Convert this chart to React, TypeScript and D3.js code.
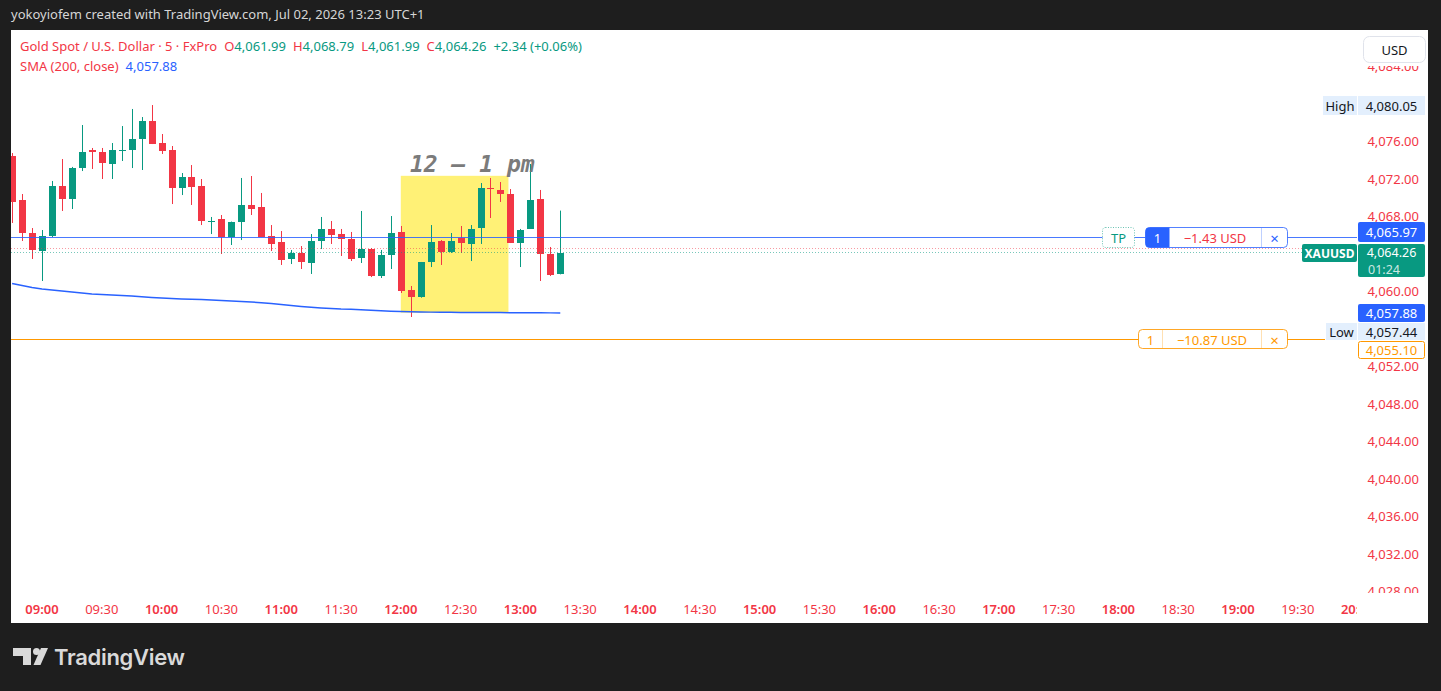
import * as d3 from "d3"

// 5-minute candles, Gold Spot / U.S. Dollar (FxPro)
const times = [
  "08:45", "08:50", "08:55", "09:00", "09:05", "09:10", "09:15", "09:20", "09:25", "09:30",
  "09:35", "09:40", "09:45", "09:50", "09:55", "10:00", "10:05", "10:10", "10:15", "10:20",
  "10:25", "10:30", "10:35", "10:40", "10:45", "10:50", "10:55", "11:00", "11:05", "11:10",
  "11:15", "11:20", "11:25", "11:30", "11:35", "11:40", "11:45", "11:50", "11:55", "12:00",
  "12:05", "12:10", "12:15", "12:20", "12:25", "12:30", "12:35", "12:40", "12:45", "12:50",
  "12:55", "13:00", "13:05", "13:10", "13:15", "13:20",
]

const opens = [
  4074.61, 4069.92, 4066.40, 4064.48, 4066.08, 4071.41, 4070.03, 4073.33, 4075.25, 4075.04,
  4073.76, 4075.15, 4075.25, 4076.43, 4078.35, 4076.00, 4075.25, 4071.20, 4072.37, 4071.41,
  4067.57, 4067.89, 4065.97, 4067.57, 4069.39, 4069.17, 4066.08, 4065.44, 4063.63, 4064.27,
  4063.20, 4065.55, 4066.83, 4066.29, 4065.76, 4063.73, 4064.69, 4061.81, 4064.05, 4066.51,
  4060.32, 4059.57, 4063.31, 4065.55, 4064.37, 4065.87, 4065.23, 4066.93, 4071.20, 4070.99,
  4070.56, 4065.33, 4066.83, 4070.03, 4064.16, 4061.99,
]
const highs = [
  4074.93, 4070.56, 4066.93, 4066.72, 4071.95, 4074.29, 4073.45, 4077.92, 4075.47, 4075.47,
  4076.00, 4077.81, 4079.63, 4078.77, 4080.05, 4076.96, 4075.68, 4072.80, 4073.65, 4072.16,
  4068.11, 4068.32, 4067.62, 4072.27, 4072.48, 4070.67, 4067.25, 4066.61, 4064.59, 4065.01,
  4066.29, 4068.11, 4067.68, 4066.83, 4066.51, 4068.75, 4064.80, 4064.59, 4068.21, 4067.15,
  4060.75, 4063.31, 4067.25, 4065.65, 4066.40, 4067.15, 4067.25, 4071.73, 4072.27, 4071.84,
  4071.09, 4066.83, 4073.76, 4070.99, 4064.91, 4068.79,
]
const lows = [
  4067.47, 4065.55, 4063.63, 4061.28, 4065.97, 4068.75, 4068.96, 4073.01, 4073.23, 4072.16,
  4072.16, 4074.08, 4073.33, 4073.12, 4075.89, 4074.83, 4069.49, 4070.45, 4069.39, 4067.25,
  4066.29, 4064.16, 4065.12, 4065.65, 4068.32, 4065.97, 4064.48, 4062.99, 4063.09, 4062.56,
  4062.03, 4064.69, 4065.23, 4063.95, 4063.41, 4063.20, 4061.70, 4061.60, 4062.56, 4060.00,
  4057.44, 4059.50, 4062.77, 4062.99, 4064.27, 4064.27, 4063.41, 4065.23, 4068.00, 4069.71,
  4065.33, 4062.77, 4066.83, 4061.28, 4061.81, 4061.99,
]
const closes = [
  4069.71, 4066.40, 4064.59, 4066.08, 4071.41, 4070.03, 4073.33, 4075.04, 4075.04, 4073.87,
  4075.25, 4075.25, 4076.43, 4078.35, 4075.89, 4075.15, 4071.20, 4072.37, 4071.31, 4067.68,
  4067.68, 4065.97, 4067.57, 4069.39, 4068.96, 4065.97, 4065.23, 4063.52, 4064.27, 4063.31,
  4065.55, 4066.83, 4066.19, 4065.76, 4063.63, 4064.69, 4061.81, 4064.05, 4066.40, 4060.21,
  4059.57, 4063.31, 4065.44, 4064.37, 4065.55, 4065.33, 4066.83, 4071.20, 4071.09, 4070.56,
  4065.33, 4066.72, 4069.92, 4064.16, 4061.92, 4064.26,
]
const sma200 = [
  4061.01, 4060.80, 4060.59, 4060.43, 4060.32, 4060.21, 4060.11, 4060.00, 4059.89, 4059.84,
  4059.79, 4059.73, 4059.68, 4059.59, 4059.52, 4059.47, 4059.41, 4059.36, 4059.33, 4059.30,
  4059.25, 4059.20, 4059.15, 4059.09, 4059.04, 4058.97, 4058.88, 4058.77, 4058.67, 4058.56,
  4058.47, 4058.40, 4058.35, 4058.29, 4058.26, 4058.21, 4058.15, 4058.10, 4058.06, 4058.03,
  4058.00, 4057.97, 4057.96, 4057.95, 4057.94, 4057.93, 4057.92, 4057.92, 4057.91, 4057.91,
  4057.90, 4057.90, 4057.89, 4057.89, 4057.88, 4057.88,
]

const priceTicks = [4084, 4080, 4076, 4072, 4068, 4064, 4060, 4056, 4052, 4048, 4044, 4040, 4036, 4032, 4028]
const timeTicks = [
  "09:00", "09:30", "10:00", "10:30", "11:00", "11:30", "12:00", "12:30", "13:00", "13:30", "14:00",
  "14:30", "15:00", "15:30", "16:00", "16:30", "17:00", "17:30", "18:00", "18:30", "19:00", "19:30", "20:00",
]

// levels
const tpPrice = 4065.97
const slPrice = 4055.1
const askPrice = 4064.8
const sessionHigh = 4080.05
const sessionLow = 4057.44
const tpPnl = "\u22121.43 USD"
const slPnl = "\u221210.87 USD"
const countdown = "01:24"
const boxStart = "12:00"
const boxEnd = "12:54"
const boxTop = 4072.5
const boxBottom = 4057.9

const RED = "#f23645"
const GREEN = "#089981"
const BLUE = "#2962ff"
const ORANGE = "#ff9800"
const UI = "'Noto Sans', 'Open Sans', sans-serif"

const toMin = (t: string) => {
  const [h, m] = t.split(":").map(Number)
  return h * 60 + m
}

export default function App() {
  const x = d3.scaleLinear().domain([540, 1200]).range([42, 1357.6])
  const y = d3.scaleLinear().domain([4060, 4084]).range([293, 68])
  const fmt = d3.format(",.2f")

  const last = closes.length - 1
  const chg = closes[last] - closes[last - 1]
  const chgPct = (chg / closes[last - 1]) * 100

  const smaLine = d3
    .line<number>()
    .x((_, i) => x(toMin(times[i])))
    .y((d) => y(d))

  const crisp = (v: number) => Math.round(v) + 0.5

  const lastY = Math.round(y(closes[last]))
  const greenTop = lastY - 9
  const blueTop = greenTop - 22
  const smaTop = Math.round(y(sma200[last])) - 9
  const lowTop = smaTop + 19
  const slTop = lowTop + 18
  const highTop = Math.round(y(sessionHigh)) - 9

  // tick labels hidden under the price-axis tags
  const tagSpans = [
    [highTop, highTop + 19],
    [blueTop, greenTop + 33],
    [smaTop, slTop + 18],
  ]
  const visibleTicks = priceTicks.filter((p) => {
    const ty = y(p) - 2
    return !tagSpans.some(([a, b]) => ty > a - 4 && ty < b + 4)
  })

  const axisX = 1357
  const boxX = 1358
  const boxW = 67

  return (
    <svg
      width={1441}
      height={691}
      style={{ position: "absolute", left: 0, top: 0, display: "block" }}
      fontFamily={UI}
    >
      <defs>
        <clipPath id="pane">
          <rect x={11} y={30} width={axisX - 11} height={563} />
        </clipPath>
        <clipPath id="paxis">
          <rect x={axisX} y={66} width={70} height={527} />
        </clipPath>
        <clipPath id="taxis">
          <rect x={11} y={593} width={axisX - 11} height={30} />
        </clipPath>
      </defs>

      <rect width={1441} height={691} fill="#1e1e1e" />
      <text x={11} y={19} fontSize={13} fill="#d6d6d6">
        yokoyiofem created with TradingView.com, Jul 02, 2026 13:23 UTC+1
      </text>

      <rect x={11} y={30} width={1417} height={593} fill="#ffffff" />

      <g clipPath="url(#pane)">
        {/* highlighted session box */}
        <rect
          x={x(toMin(boxStart))}
          y={y(boxTop)}
          width={x(toMin(boxEnd)) - x(toMin(boxStart))}
          height={y(boxBottom) - y(boxTop)}
          fill="#fff176"
        />

        {/* candles */}
        {times.map((t, i) => {
          const cx = Math.round(x(toMin(t)))
          const o = opens[i]
          const c = closes[i]
          const col = c >= o ? GREEN : RED
          const top = Math.round(y(Math.max(o, c)))
          const bot = Math.round(y(Math.min(o, c)))
          return (
            <g key={t}>
              <line x1={cx + 0.5} x2={cx + 0.5} y1={y(highs[i])} y2={y(lows[i])} stroke={col} strokeWidth={1} />
              <rect x={cx - 3} y={top} width={7} height={Math.max(1, bot - top)} fill={col} />
            </g>
          )
        })}

        <path d={smaLine(sma200) ?? ""} fill="none" stroke={BLUE} strokeWidth={1.5} />

        {/* bid/ask & last price lines */}
        <line x1={11} x2={1302} y1={crisp(y(askPrice))} y2={crisp(y(askPrice))} stroke={RED} strokeOpacity={0.5} strokeDasharray="1,2" />
        <line x1={11} x2={1302} y1={crisp(y(closes[last]) - 1)} y2={crisp(y(closes[last]) - 1)} stroke={GREEN} strokeOpacity={0.55} strokeDasharray="1,2" />

        {/* position lines */}
        <line x1={11} x2={axisX} y1={crisp(y(tpPrice))} y2={crisp(y(tpPrice))} stroke={BLUE} strokeOpacity={0.85} />
        <line x1={11} x2={1325} y1={crisp(y(slPrice))} y2={crisp(y(slPrice))} stroke={ORANGE} />

        <text
          x={410}
          y={172}
          fontFamily="'DejaVu Sans Mono', monospace"
          fontWeight={700}
          fontStyle="italic"
          fontSize={23}
          fill="#7b7b7b"
        >
          12 – 1 pm
        </text>

        {/* TP tag */}
        <rect x={1102.5} y={227.5} width={32} height={20} rx={3} fill="#fff" stroke={GREEN} strokeOpacity={0.6} strokeDasharray="1,1.5" />
        <text x={1118.5} y={238} fontSize={13} fill={GREEN} textAnchor="middle" dominantBaseline="central">TP</text>

        {/* TP position box */}
        <rect x={1145.5} y={227.5} width={142} height={20} rx={4} fill="#fff" stroke={BLUE} strokeOpacity={0.8} />
        <path d="M1149.5,227.5 H1169.5 V247.5 H1149.5 A4,4 0 0 1 1145.5,243.5 V231.5 A4,4 0 0 1 1149.5,227.5 Z" fill={BLUE} />
        <text x={1157.5} y={238} fontSize={13} fill="#fff" textAnchor="middle" dominantBaseline="central">1</text>
        <text x={1215} y={238} fontSize={13} fill={RED} textAnchor="middle" dominantBaseline="central">{tpPnl}</text>
        <line x1={1261.5} x2={1261.5} y1={228} y2={247} stroke={BLUE} strokeOpacity={0.3} />
        <text x={1274.5} y={238} fontSize={15} fill={BLUE} textAnchor="middle" dominantBaseline="central">×</text>

        {/* SL position box */}
        <rect x={1138.5} y={329.5} width={149} height={19} rx={4} fill="#fff" stroke={ORANGE} strokeOpacity={0.85} />
        <text x={1150.5} y={339.5} fontSize={13} fill={ORANGE} textAnchor="middle" dominantBaseline="central">1</text>
        <line x1={1162.5} x2={1162.5} y1={330} y2={348} stroke={ORANGE} strokeOpacity={0.3} />
        <text x={1212} y={339.5} fontSize={13} fill={ORANGE} textAnchor="middle" dominantBaseline="central">{slPnl}</text>
        <line x1={1261.5} x2={1261.5} y1={330} y2={348} stroke={ORANGE} strokeOpacity={0.3} />
        <text x={1274.5} y={339.5} fontSize={15} fill={ORANGE} textAnchor="middle" dominantBaseline="central">×</text>
      </g>

      {/* legend */}
      <text x={20} y={51} fontSize={13} fill={RED}>
        Gold Spot / U.S. Dollar · 5 · FxPro
        <tspan dx={7}>O</tspan>
        <tspan fill={GREEN}>{fmt(opens[last])}</tspan>
        <tspan dx={7}>H</tspan>
        <tspan fill={GREEN}>{fmt(highs[last])}</tspan>
        <tspan dx={7}>L</tspan>
        <tspan fill={GREEN}>{fmt(lows[last])}</tspan>
        <tspan dx={7}>C</tspan>
        <tspan fill={GREEN}>{fmt(closes[last])}</tspan>
        <tspan dx={7} fill={GREEN}>
          {(chg >= 0 ? "+" : "") + chg.toFixed(2)} ({(chgPct >= 0 ? "+" : "") + chgPct.toFixed(2)}%)
        </tspan>
      </text>
      <text x={20} y={71} fontSize={13} fill={RED}>
        SMA (200, close)
        <tspan dx={7} fill={BLUE}>{fmt(sma200[last])}</tspan>
      </text>

      {/* price axis */}
      <g clipPath="url(#paxis)">
        {visibleTicks.map((p) => (
          <text key={p} x={1419} y={y(p) - 2} fontSize={13} fill={RED} textAnchor="end" dominantBaseline="central">
            {fmt(p)}
          </text>
        ))}
      </g>

      {/* USD button */}
      <rect x={1363.5} y={36.5} width={62} height={26} rx={6} fill="#fff" stroke="#e0e3eb" />
      <text x={1394.5} y={50} fontSize={13} fill="#131722" textAnchor="middle" dominantBaseline="central">USD</text>

      {/* High */}
      <rect x={1323} y={highTop} width={34} height={19} fill="#e3effd" />
      <text x={1340} y={highTop + 9.5} fontSize={13} fill="#131722" textAnchor="middle" dominantBaseline="central">High</text>
      <rect x={boxX} y={highTop} width={boxW} height={19} fill="#e3effd" />
      <text x={1391.5} y={highTop + 9.5} fontSize={13} fill="#131722" textAnchor="middle" dominantBaseline="central">{fmt(sessionHigh)}</text>

      {/* TP price label */}
      <rect x={boxX} y={blueTop} width={boxW} height={20} rx={2} fill={BLUE} />
      <text x={1391.5} y={blueTop + 10} fontSize={13} fill="#fff" textAnchor="middle" dominantBaseline="central">{fmt(tpPrice)}</text>

      {/* last price label */}
      <rect x={1302} y={greenTop} width={55} height={18} rx={2} fill={GREEN} />
      <text x={1329.5} y={greenTop + 9} fontSize={12} fontWeight={700} fill="#fff" textAnchor="middle" dominantBaseline="central">XAUUSD</text>
      <rect x={boxX} y={greenTop} width={boxW} height={33} rx={2} fill={GREEN} />
      <text x={1391.5} y={greenTop + 8} fontSize={12.5} fill="#fff" textAnchor="middle" dominantBaseline="central">{fmt(closes[last])}</text>
      <text x={1368} y={greenTop + 25} fontSize={12.5} fill="#fff" fillOpacity={0.8} dominantBaseline="central">{countdown}</text>

      {/* SMA label */}
      <rect x={boxX} y={smaTop} width={boxW} height={18} rx={2} fill={BLUE} />
      <text x={1391.5} y={smaTop + 9} fontSize={13} fill="#fff" textAnchor="middle" dominantBaseline="central">{fmt(sma200[last])}</text>

      {/* Low */}
      <rect x={1326} y={lowTop} width={31} height={17} fill="#e3effd" />
      <text x={1341.5} y={lowTop + 8.5} fontSize={13} fill="#131722" textAnchor="middle" dominantBaseline="central">Low</text>
      <rect x={boxX} y={lowTop} width={boxW} height={17} fill="#e3effd" />
      <text x={1391.5} y={lowTop + 8.5} fontSize={13} fill="#131722" textAnchor="middle" dominantBaseline="central">{fmt(sessionLow)}</text>

      {/* SL price label */}
      <rect x={boxX + 0.5} y={slTop + 0.5} width={boxW - 1} height={17} rx={2} fill="#fff" stroke={ORANGE} />
      <text x={1391.5} y={slTop + 9} fontSize={13} fill={ORANGE} textAnchor="middle" dominantBaseline="central">{fmt(slPrice)}</text>

      {/* time axis */}
      <g clipPath="url(#taxis)">
        {timeTicks.map((t) => (
          <text
            key={t}
            x={x(toMin(t))}
            y={609}
            fontSize={13}
            fontWeight={t.endsWith(":00") ? 600 : 400}
            fill={RED}
            textAnchor="middle"
            dominantBaseline="central"
          >
            {t}
          </text>
        ))}
      </g>

      {/* TradingView mark */}
      <g fill="#d9d9d9">
        <path d="M13,648 H31 V665 H23 V656 H13 Z" />
        <circle cx={36.5} cy={651.5} r={3.5} />
        <path d="M41,648 H48 L40.5,665 H33.5 Z" />
      </g>
      <text x={54} y={665} fontSize={22} fontWeight={600} fill="#d9d9d9" fontFamily="Inter, 'Noto Sans', sans-serif" letterSpacing={-0.3}>
        TradingView
      </text>
    </svg>
  )
}
